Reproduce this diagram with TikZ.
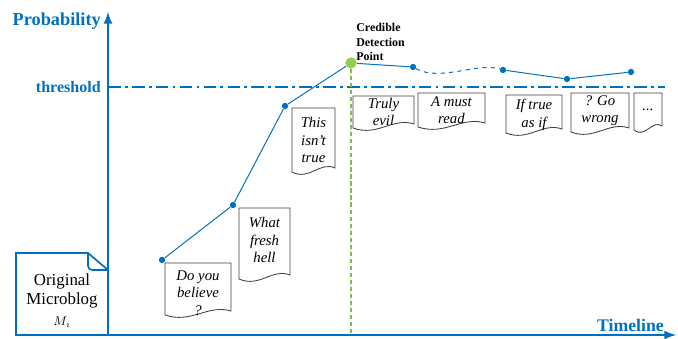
\documentclass[tikz,border=0pt]{standalone}
\usepackage{fontspec}
\setmainfont{Liberation Serif}
\usetikzlibrary{positioning,calc}
\usetikzlibrary{arrows}
\definecolor{axisblue}{RGB}{0,112,192}
\definecolor{cdpgreen}{RGB}{146,208,80}

% one repost: box with a wavy bottom, and its text
\newcommand{\post}[7]{%
  \pgfmathsetmacro\postmid{(#2+#4)/2}
  \pgfmathsetmacro\posta{#2+0.4*(#4-#2)}
  \pgfmathsetmacro\postb{#2+0.65*(#4-#2)}
  \draw[postbox] (#2,#3) -- (#4,#3) -- (#4,#5-4) .. controls (\postb,#5-11) and (\posta,#5+9) .. (#2,#5) -- cycle;
  \node[posttext] (#1) at (\postmid,#6) {#7};
}

\begin{document}
\begin{tikzpicture}[>=latex, x=0.025cm, y=-0.025cm,
    axis/.style = {draw = axisblue, line width = 1.8pt},
    link/.style = {draw = axisblue, line width = 0.7pt},
    dot/.style = {circle, fill = axisblue, inner sep = 0pt, minimum size = 4.5pt},
    postbox/.style = {draw = black!75, line width = 0.6pt, fill = white},
    posttext/.style = {align = center, font = \fontsize{10.5}{12.3}\selectfont\itshape, inner sep = 0pt},
    axislabel/.style = {text = axisblue, font = \bfseries\fontsize{13}{15}\selectfont, inner sep = 0pt}]

    \useasboundingbox (0, 0) rectangle (678, 339);

    \coordinate (o) at (108, 335);
    \coordinate (ytop) at (108, 12);
    \coordinate (xend) at (676, 335);
    \coordinate (thr) at (108, 87);
    \coordinate (thrend) at (665, 87);

    % original microblog
    \draw [draw = axisblue, line width = 1.2pt, fill = white] (o) -- (16, 335) -- (16, 253) -- (88, 253) -- (108, 270) -- cycle;
    \draw [draw = axisblue, line width = 1.2pt, rounded corners = 3pt] (88, 253) |- (108, 270);
    \node [align = center, font = \large, inner sep = 0pt] (orig) at (62, 291) {Original\\Microblog};
    \node [font = \small, inner sep = 0pt] (mi) at (62, 322) {$M_i$};

    % axes and threshold
    \draw [axis, ->] (o) -- (ytop);
    \draw [axis, ->] (o) -- (xend);
    \draw [draw = axisblue, line width = 1pt, dash pattern = on 9pt off 3pt on 2pt off 3pt] (thr) -- (thrend);
    \node [axislabel, anchor = east] (prob) at (101, 21) {Probability};
    \node [axislabel, font = \bfseries\fontsize{11.4}{13}\selectfont, anchor = east] (thrlabel) at (101, 87) {threshold};
    \node [axislabel, font = \bfseries\fontsize{12.6}{15}\selectfont, anchor = east] (time) at (664, 325) {Timeline};

    % reposts
    \post{do}{165}{263}{231}{315}{293}{Do you\\believe\\?}
    \post{fresh}{239}{208}{290}{279}{240}{What\\fresh\\hell}
    \post{true}{292}{108}{335}{172}{140}{This\\isn't\\true}
    \post{evil}{353}{96}{414}{128}{112}{Truly\\evil}
    \post{read}{418}{93}{485}{127}{110}{A must\\read}
    \post{asif}{506}{95}{562}{133}{115}{If true\\as if}
    \post{wrong}{571}{93}{629}{132}{111}{? Go\\wrong}
    \post{more}{634}{93}{662}{130}{110}{...}

    % probability curve
    \node [dot] (p1) at (162, 260) {};
    \node [dot] (p2) at (233, 205) {};
    \node [dot] (p3) at (285, 106) {};
    \node [circle, fill = cdpgreen, inner sep = 0pt, minimum size = 8pt] (cdp) at (351, 63) {};
    \node [dot] (p5) at (413, 67) {};
    \node [dot] (p6) at (503, 70) {};
    \node [dot] (p7) at (567, 79) {};
    \node [dot] (p8) at (631, 72) {};
    \coordinate (cdpfoot) at (351, 335);

    \draw [draw = cdpgreen!90!black, line width = 0.9pt, dash pattern = on 3pt off 2pt] (cdp) -- (cdpfoot);
    \draw [link] (p1) -- (p2) -- (p3) -- (cdp) -- (p5);
    \draw [link, dashed] (p5) .. controls (440, 82) and (478, 62) .. (p6);
    \draw [link] (p6) -- (p7) -- (p8);

    \node [align = left, anchor = west, font = \bfseries\fontsize{8.5}{10.3}\selectfont, inner sep = 0pt] (cdplabel) at (356, 42) {Credible\\Detection\\Point};

\end{tikzpicture}
\end{document}
